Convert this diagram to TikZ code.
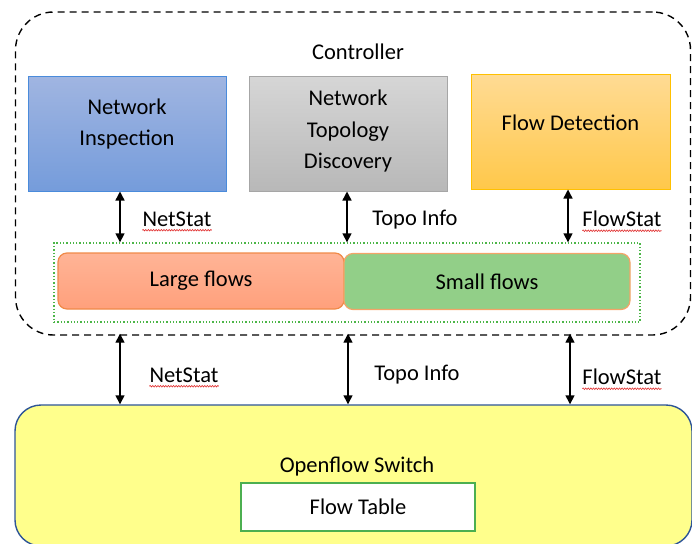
\documentclass[tikz,border=0pt]{standalone}
\usepackage{fontspec}
\setmainfont{Carlito}
\usetikzlibrary{arrows.meta,decorations.pathmorphing,calc}
\definecolor{niTop}{HTML}{A0B5E1}
\definecolor{niBot}{HTML}{759CDB}
\definecolor{niLine}{HTML}{4A8BDB}
\definecolor{tdTop}{HTML}{D6D6D6}
\definecolor{tdBot}{HTML}{B8B8B8}
\definecolor{tdLine}{HTML}{A6A6A6}
\definecolor{fdTop}{HTML}{FFDB94}
\definecolor{fdBot}{HTML}{FFC84A}
\definecolor{fdLine}{HTML}{FFC000}
\definecolor{lfTop}{HTML}{FFB496}
\definecolor{lfBot}{HTML}{FFA07C}
\definecolor{lfLine}{HTML}{F08A48}
\definecolor{sfFill}{HTML}{92CF88}
\definecolor{sfLine}{HTML}{F4A468}
\definecolor{grpLine}{HTML}{4CB648}
\definecolor{swFill}{HTML}{FFFF8C}
\definecolor{swLine}{HTML}{2E5597}
\definecolor{ftLine}{HTML}{4CAF50}
\definecolor{spellRed}{HTML}{E03030}
\begin{document}
\begin{tikzpicture}[x=1pt,y=-1pt,
  font=\fontsize{22.5}{31.5}\selectfont,
  module/.style={draw, line width=1pt, minimum width=198pt, minimum height=115pt,
    inner sep=0pt},
  flowbox/.style={draw, line width=1.2pt, rounded corners=9pt,
    minimum width=286pt, minimum height=56pt, inner sep=0pt},
  dar/.style={{Triangle[length=9pt,width=9pt]}-{Triangle[length=9pt,width=9pt]}, line width=1.4pt},
  lbl/.style={inner sep=0pt, anchor=center, align=center},
  spell/.style={spellRed, line width=0.6pt, decorate,
    decoration={snake, amplitude=0.8pt, segment length=2.6pt}}]
\useasboundingbox (0,0) rectangle (692,543);

% controller frame
\node[draw, dashed, dash pattern=on 7pt off 5pt, line width=1.4pt, rounded corners=38pt,
  minimum width=675pt, minimum height=323pt, inner sep=0pt] (ctrl) at (353,173.5) {};
\node[lbl] (ctrlname) at (358,52) {Controller};

% controller modules
\node[module, draw=niLine, top color=niTop, bottom color=niBot] (ni) at (127,133.5) {};
\node[lbl] (nitext) at (127,124) {Network\\Inspection};
\node[module, draw=tdLine, top color=tdTop, bottom color=tdBot] (td) at (348,133.5) {};
\node[lbl] (tdtext) at (348,131) {Network\\Topology\\Discovery};
\node[module, draw=fdLine, top color=fdTop, bottom color=fdBot, minimum width=199pt] (fd) at (570.5,131.5) {};
\node[lbl] (fdtext) at (570.5,123) {Flow Detection};

% flow classes
\node[draw=grpLine, dotted, line width=1.3pt, minimum width=586pt, minimum height=79pt,
  inner sep=0pt] (grp) at (347,282.5) {};
\node[flowbox, draw=lfLine, top color=lfTop, bottom color=lfBot] (lf) at (201,281) {Large flows};
\node[flowbox, draw=sfLine, fill=sfFill] (sf) at (487,281.5) {Small flows};

% switch
\node[draw=swLine, fill=swFill, line width=1.4pt, rounded corners=26pt,
  minimum width=677pt, minimum height=141pt, inner sep=0pt] (sw) at (353.5,475.5) {};
\node[lbl] (swname) at (357,466) {Openflow Switch};
\node[draw=ftLine, fill=white, line width=1.3pt, minimum width=234pt, minimum height=48pt,
  inner sep=0pt] (ft) at (358,507) {Flow Table};

% links inside the controller
\draw[dar] ([xshift=-7pt]ni.south) -- ([xshift=-7pt]ni.south |- grp.north);
\draw[dar] ([xshift=-1pt]td.south) -- ([xshift=-1pt]td.south |- grp.north);
\draw[dar] ([xshift=-2.5pt]fd.south) -- ([xshift=-2.5pt]fd.south |- grp.north);
\node[lbl] (in1) at (177,219) {NetStat};
\node[lbl] (in2) at (415,220) {Topo Info};
\node[lbl] (in3) at (622,219) {FlowStat};

% links between controller and switch
\draw[dar] ([xshift=-7pt,yshift=2pt]ni.south |- ctrl.south) -- ([xshift=-7pt]ni.south |- sw.north);
\draw[dar] ([yshift=2pt]td.south |- ctrl.south) -- (td.south |- sw.north);
\draw[dar] ([xshift=-0.5pt,yshift=2pt]fd.south |- ctrl.south) -- ([xshift=-0.5pt]fd.south |- sw.north);
\node[lbl] (out1) at (184,375) {NetStat};
\node[lbl] (out2) at (417,375) {Topo Info};
\node[lbl] (out3) at (622,377) {FlowStat};

% wavy underlines
\foreach \w in {in1,in3,out1,out3}
  \draw[spell] ([yshift=-4pt]\w.base west) -- ([yshift=-4pt]\w.base east);
\end{tikzpicture}
\end{document}
